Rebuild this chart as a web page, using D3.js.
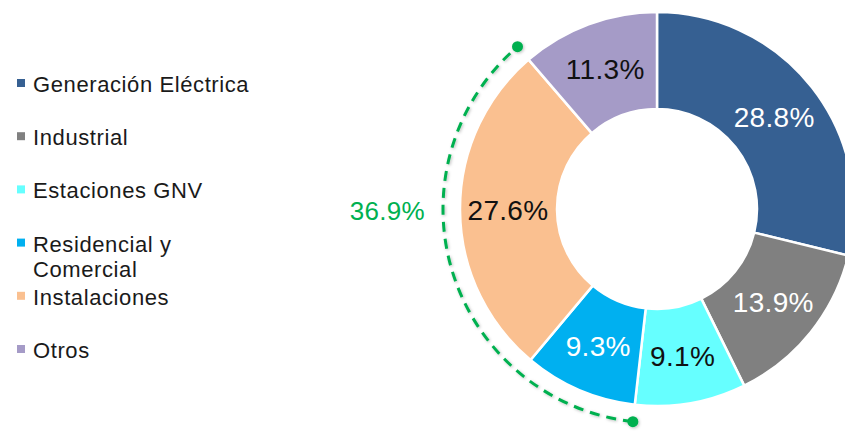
<!DOCTYPE html>
<html lang="es">
<head>
<meta charset="UTF-8">
<title>Consumo por sector</title>
<style>
  body { margin: 0; background: #fff; }
  svg { display: block; font-family: 'Liberation Sans', Arial, sans-serif; }
  .legend text { font-size: 22px; letter-spacing: 0.6px; fill: #1a1a1a; }
  .slice-label { font-size: 28px; letter-spacing: 0.3px; }
</style>
</head>
<body>
<svg id="chart" width="845" height="431"></svg>
<script src="https://d3js.org/d3.v7.min.js"></script>
<script>
  const categories = ["Generación Eléctrica", "Industrial", "Estaciones GNV", "Residencial y Comercial", "Instalaciones", "Otros"];
  const values = [28.8, 13.9, 9.1, 9.3, 27.6, 11.3];
  const colors = ["#366092", "#808080", "#66ffff", "#00b0f0", "#fac090", "#a59bc7"];
  const labelColors = ["#ffffff", "#ffffff", "#111111", "#ffffff", "#111111", "#111111"];
  // sectors grouped by the green bracket
  const bracketGroup = ["Residencial y Comercial", "Instalaciones"];
  const bracketLabel = "36.9%";

  const svg = d3.select("#chart");
  const cx = 657, cy = 209;
  const outerR = 197, innerR = 100, labelR = 149, bracketR = 214;
  const green = "#00b050";

  const data = categories.map((c, i) => ({ name: c, value: values[i], color: colors[i], label: labelColors[i] }));

  const pie = d3.pie().sort(null).value(d => d.value);
  const arcs = pie(data);
  const arc = d3.arc().innerRadius(innerR).outerRadius(outerR);
  const labelArc = d3.arc().innerRadius(labelR).outerRadius(labelR);

  const g = svg.append("g").attr("transform", `translate(${cx},${cy})`);

  g.selectAll("path.slice")
    .data(arcs)
    .enter()
    .append("path")
    .attr("class", "slice")
    .attr("d", arc)
    .attr("fill", d => d.data.color)
    .attr("stroke", "#fff")
    .attr("stroke-width", 2.5);

  g.selectAll("text.slice-label")
    .data(arcs)
    .enter()
    .append("text")
    .attr("class", "slice-label")
    .attr("transform", d => `translate(${labelArc.centroid(d)})`)
    .attr("text-anchor", "middle")
    .attr("dy", "0.36em")
    .attr("fill", d => d.data.label)
    .text(d => d3.format(".1f")(d.data.value) + "%");

  // green dashed bracket over the grouped sectors
  const grp = arcs.filter(a => bracketGroup.includes(a.data.name));
  const a0 = d3.min(grp, a => a.startAngle);
  const a1 = d3.max(grp, a => a.endAngle);

  const defs = svg.append("defs");
  const f = defs.append("filter").attr("id", "shadow").attr("x", "-20%").attr("y", "-20%").attr("width", "140%").attr("height", "140%");
  f.append("feDropShadow").attr("dx", 1).attr("dy", 1).attr("stdDeviation", 1.5)
    .attr("flood-color", "#000").attr("flood-opacity", 0.25);

  const bp = d3.path();
  bp.arc(0, 0, bracketR, a0 - Math.PI / 2, a1 - Math.PI / 2, false);
  const bracket = g.append("g").attr("filter", "url(#shadow)");
  bracket.append("path")
    .attr("d", bp.toString())
    .attr("fill", "none")
    .attr("stroke", green)
    .attr("stroke-width", 3)
    .attr("stroke-dasharray", "10,7");

  bracket.selectAll("circle")
    .data([a0, a1])
    .enter()
    .append("circle")
    .attr("cx", a => bracketR * Math.sin(a))
    .attr("cy", a => -bracketR * Math.cos(a))
    .attr("r", 5.5)
    .attr("fill", green);

  // label sits beside the leftmost point of the bracket
  g.append("text")
    .attr("x", -bracketR - 18)
    .attr("y", 2)
    .attr("dy", "0.36em")
    .attr("text-anchor", "end")
    .attr("fill", green)
    .style("font-size", "26px")
    .style("letter-spacing", "0.3px")
    .text(bracketLabel);

  // legend
  const ly = d3.scalePoint().domain(categories).range([84, 350]);
  const legend = svg.append("g").attr("class", "legend");
  const items = legend.selectAll("g")
    .data(data)
    .enter()
    .append("g")
    .attr("transform", d => `translate(0,${ly(d.name)})`);

  items.append("rect")
    .attr("x", 17).attr("y", -5)
    .attr("width", 8).attr("height", 8)
    .attr("fill", d => d.color);

  items.append("text")
    .attr("x", 33)
    .attr("y", 8)
    .each(function(d) {
      const t = d3.select(this);
      const words = d.name.split(" ");
      let line = [];
      let tspan = t.append("tspan").attr("x", 33).attr("dy", 0);
      words.forEach(w => {
        line.push(w);
        tspan.text(line.join(" "));
        if (tspan.node().getComputedTextLength() > 225 && line.length > 1) {
          line.pop();
          tspan.text(line.join(" "));
          line = [w];
          tspan = t.append("tspan").attr("x", 33).attr("dy", 25).text(w);
        }
      });
    });
</script>
</body>
</html>
